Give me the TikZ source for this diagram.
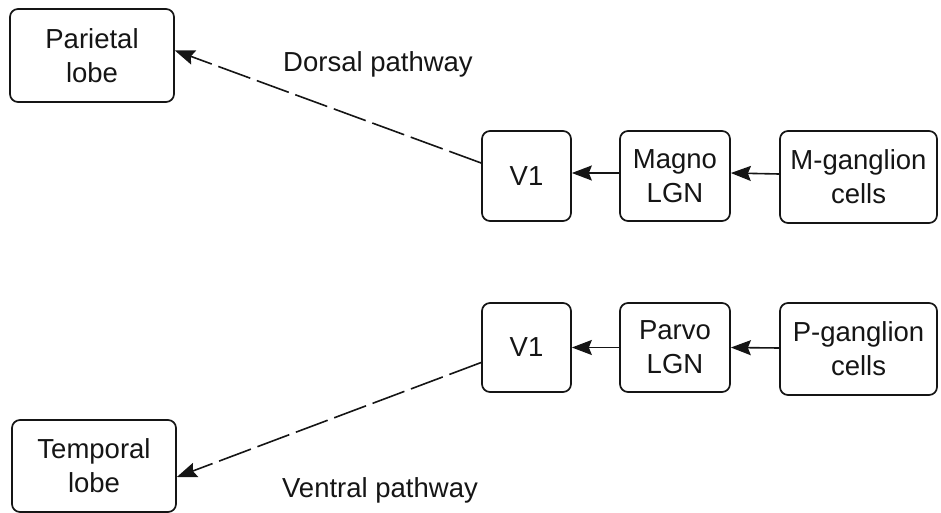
\documentclass[tikz,border=0pt]{standalone}
\usepackage{fontspec}
\setmainfont{Liberation Sans}
\usetikzlibrary{arrows.meta}
\definecolor{ink}{HTML}{151515}
\tikzset{
  box/.style={draw=ink, line width=1.7pt, rounded corners=8pt, align=center,
    inner sep=0pt, text=ink, font=\fontsize{27.5}{34}\selectfont},
  flow/.style={draw=ink, line width=1.6pt,
    -{Stealth[length=20pt,width=15pt,inset=3pt]}},
  longdash/.style={flow, dash pattern=on 34pt off 7pt},
  caption/.style={text=ink, font=\fontsize{27.5}{34}\selectfont}
}
\begin{document}
\begin{tikzpicture}[x=1pt,y=-1pt]
\useasboundingbox (0,0) rectangle (941,513);

% top row: magnocellular stream
\node[box, minimum width=164pt, minimum height=93pt] (par) at (92,55.5) {Parietal\\lobe};
\node[box, minimum width=89pt, minimum height=90pt] (v1a) at (526.5,176) {V1};
\node[box, minimum width=110pt, minimum height=90pt] (magno) at (675,176) {Magno\\LGN};
\node[box, minimum width=157pt, minimum height=92pt] (mgc) at (858.5,177) {M-ganglion\\cells};

% bottom row: parvocellular stream
\node[box, minimum width=164pt, minimum height=92pt] (temp) at (94,466) {Temporal\\lobe};
\node[box, minimum width=89pt, minimum height=89pt] (v1b) at (526.5,347.5) {V1};
\node[box, minimum width=110pt, minimum height=89pt] (parvo) at (675,347.5) {Parvo\\LGN};
\node[box, minimum width=157pt, minimum height=92pt] (pgc) at (858.5,349) {P-ganglion\\cells};

% pathway labels
\node[caption] (dorsal) at (378,64) {Dorsal pathway};
\node[caption] (ventral) at (380,490) {Ventral pathway};

% feed-forward connections
\draw[flow] ([yshift=3pt]mgc.west) -- ([yshift=3pt]magno.east);
\draw[flow] ([yshift=3pt]magno.west) -- ([yshift=3pt]v1a.east);
\draw[flow] ([yshift=1pt]pgc.west) -- (parvo.east);
\draw[flow] (parvo.west) -- (v1b.east);

% cortical pathways
\draw[longdash] ([yshift=13pt]v1a.west) -- ([yshift=5pt]par.east);
\draw[longdash] ([yshift=-15pt]v1b.west) -- ([yshift=-11pt]temp.east);
\end{tikzpicture}
\end{document}
